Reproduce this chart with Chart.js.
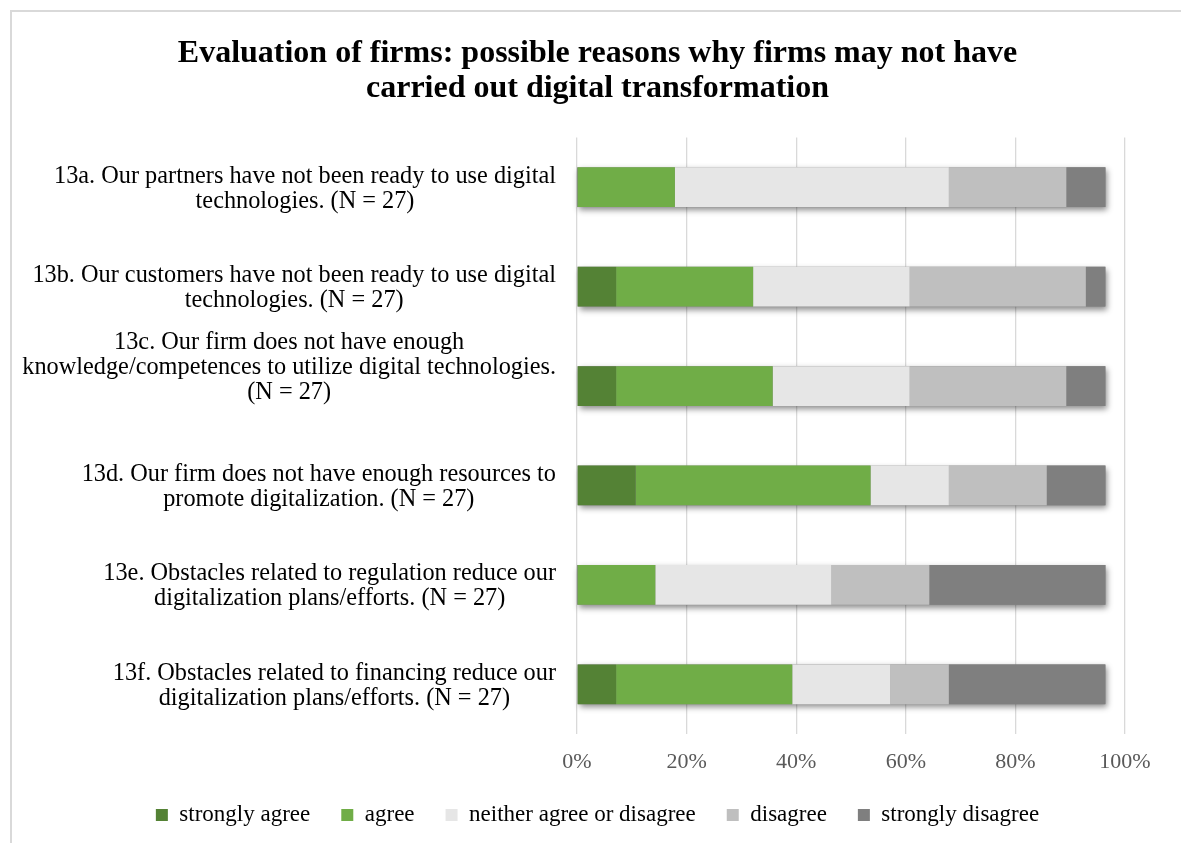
<!DOCTYPE html>
<html>
<head>
<meta charset="utf-8">
<script src="https://cdn.jsdelivr.net/npm/chart.js@4.4.1/dist/chart.umd.min.js"></script>
<style>
  html, body { margin: 0; padding: 0; background: #ffffff; overflow: hidden; }
  #frame {
    position: absolute; left: 10px; top: 10px; width: 1400px; height: 1000px;
    border-left: 2px solid #d9d9d9; border-top: 2px solid #d9d9d9;
  }
  #wrap { position: absolute; left: 0; top: 0; width: 1181px; height: 843px; }
</style>
</head>
<body>
<div id="frame"></div>
<div id="wrap"><canvas id="chart" width="1181" height="843"></canvas></div>
<script>
// Survey statements (multi-line labels)
const categories = [
  ["13a. Our partners have not been ready to use digital", "technologies. (N = 27)"],
  ["13b. Our customers have not been ready to use digital", "technologies. (N = 27)"],
  ["13c. Our firm does not have enough", "knowledge/competences to utilize digital technologies.", "(N = 27)"],
  ["13d. Our firm does not have enough resources to", "promote digitalization. (N = 27)"],
  ["13e. Obstacles related to regulation reduce our", "digitalization plans/efforts. (N = 27)"],
  ["13f. Obstacles related to financing reduce our", "digitalization plans/efforts. (N = 27)"]
];

// Share of responses per answer (%)
const stronglyAgree    = [0.00, 7.14, 7.14, 10.71, 0.00, 7.14];
const agree            = [17.86, 25.00, 28.57, 42.86, 14.29, 32.14];
const neither          = [50.00, 28.57, 25.00, 14.29, 32.14, 17.86];
const disagree         = [21.43, 32.14, 28.57, 17.86, 17.86, 10.71];
const stronglyDisagree = [7.14, 3.57, 7.14, 10.71, 32.14, 28.57];

const seriesNames = ["strongly agree", "agree", "neither agree or disagree", "disagree", "strongly disagree"];
const seriesColors = ["#548235", "#70ad47", "#e6e6e6", "#bfbfbf", "#7f7f7f"];
const xTicks = [0, 20, 40, 60, 80, 100];

const FONT = "'Liberation Serif', 'Times New Roman', serif";

// Soft drop shadow behind each whole stacked bar
const barShadow = {
  id: 'barShadow',
  beforeDatasetsDraw(chart) {
    const ctx = chart.ctx;
    const metas = chart.data.datasets.map((d, i) => chart.getDatasetMeta(i));
    ctx.save();
    ctx.shadowColor = 'rgba(0,0,0,0.45)';
    ctx.shadowBlur = 6;
    ctx.shadowOffsetX = 2;
    ctx.shadowOffsetY = 3;
    ctx.fillStyle = '#888888';
    categories.forEach((c, j) => {
      let left = Infinity, right = -Infinity, top = 0, h = 0;
      metas.forEach(m => {
        const el = m.data[j];
        left = Math.min(left, el.base, el.x);
        right = Math.max(right, el.base, el.x);
        top = el.y - el.height / 2;
        h = el.height;
      });
      ctx.fillRect(left, top, right - left, h);
    });
    ctx.restore();
  }
};

// Category labels: each block right-aligned to the axis, lines centred within the block.
// Blocks longer than two lines are lifted so their extra lines grow upward.
const categoryLabels = {
  id: 'categoryLabels',
  afterDraw(chart) {
    const ctx = chart.ctx;
    const yScale = chart.scales.y;
    const rightEdge = chart.chartArea.left - 21;
    const lineH = 25;
    ctx.save();
    ctx.font = '24.3px ' + FONT;
    ctx.fillStyle = '#000000';
    ctx.textAlign = 'center';
    ctx.textBaseline = 'middle';
    categories.forEach((lines, i) => {
      const lift = Math.max(0, lines.length - 2) * 0.78 * lineH;
      const cy = yScale.getPixelForValue(i) + 1.5 - lift;
      const w = Math.max(...lines.map(l => ctx.measureText(l).width));
      const cx = rightEdge - w / 2;
      lines.forEach((l, k) => {
        ctx.fillText(l, cx, cy + (k - (lines.length - 1) / 2) * lineH);
      });
    });
    ctx.restore();
  }
};

const seriesData = [stronglyAgree, agree, neither, disagree, stronglyDisagree];

new Chart(document.getElementById('chart'), {
  type: 'bar',
  data: {
    labels: categories.map(c => c.join(' ')),
    datasets: seriesData.map((d, i) => ({
      label: seriesNames[i],
      data: d,
      backgroundColor: seriesColors[i],
      borderWidth: 0,
      barPercentage: 0.4,
      categoryPercentage: 1.0
    }))
  },
  options: {
    indexAxis: 'y',
    responsive: false,
    animation: false,
    layout: { padding: { left: 70, right: 56, top: 0, bottom: 6.5 } },
    scales: {
      x: {
        stacked: true,
        min: 0,
        max: 100,
        afterBuildTicks(scale) { scale.ticks = xTicks.map(v => ({ value: v })); },
        afterFit(scale) { scale.height = 38.5; },
        grid: { color: '#d9d9d9', lineWidth: 1.3, drawTicks: false },
        border: { display: false },
        ticks: {
          color: '#595959',
          padding: 15,
          font: { family: FONT, size: 22 },
          callback: v => v + '%'
        }
      },
      y: {
        stacked: true,
        grid: { display: false },
        border: { display: false },
        ticks: { display: false },
        afterFit(scale) { scale.width = 507; }
      }
    },
    plugins: {
      title: {
        display: true,
        text: ["Evaluation of firms: possible reasons why firms may not have", "carried out digital transformation"],
        color: '#000000',
        font: { family: FONT, size: 32, weight: 'bold', lineHeight: 1.1 },
        padding: { top: 36.4, bottom: 30.7 }
      },
      legend: {
        position: 'bottom',
        labels: {
          color: '#000000',
          font: { family: FONT, size: 23 },
          boxWidth: 12,
          boxHeight: 12,
          padding: 31
        }
      },
      tooltip: { enabled: false }
    }
  },
  plugins: [barShadow, categoryLabels]
});
</script>
</body>
</html>
